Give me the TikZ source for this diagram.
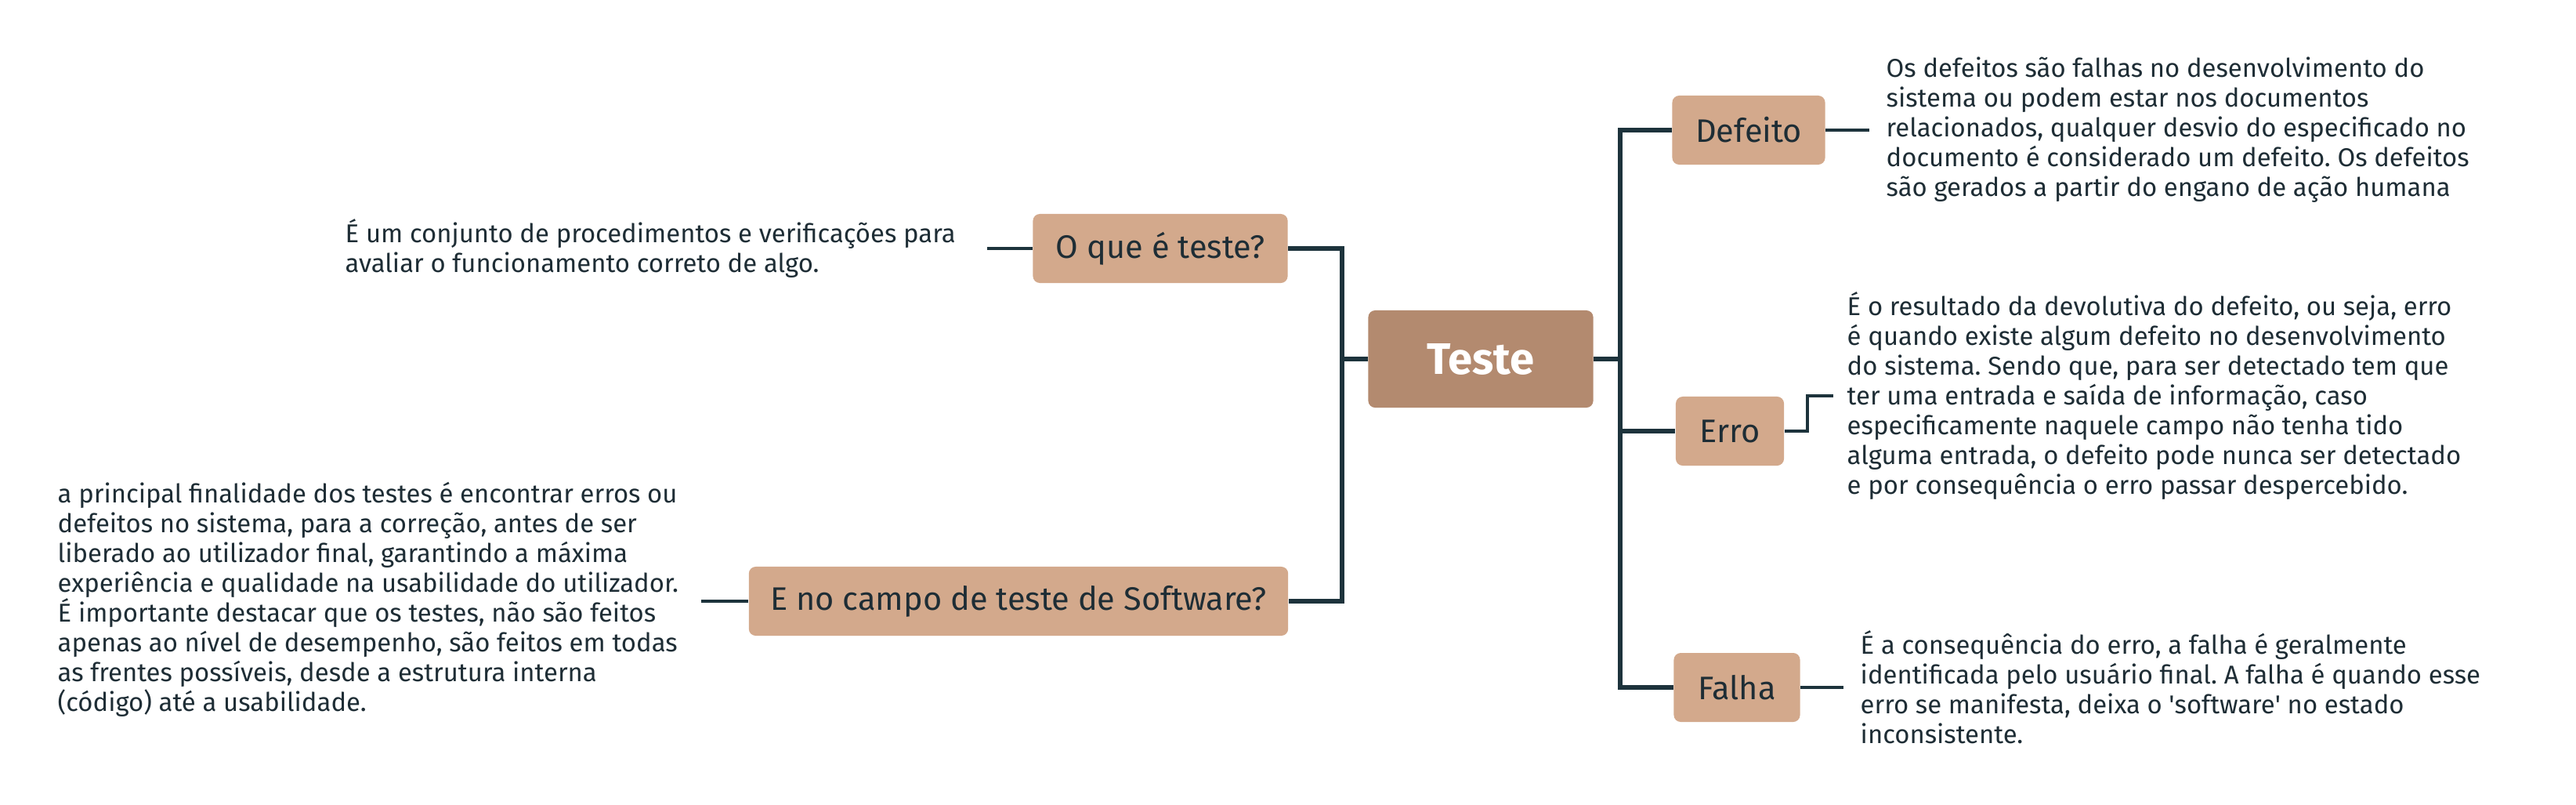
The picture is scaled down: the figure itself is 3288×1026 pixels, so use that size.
\documentclass[tikz,border=0pt]{standalone}
\usepackage{fontspec}
\setmainfont{Fira Sans}
\definecolor{boxtan}{HTML}{D3A98C}
\definecolor{boxbrown}{HTML}{B38A6F}
\definecolor{linedark}{HTML}{1D333C}
\definecolor{textdark}{HTML}{1E2D35}
\frenchspacing
\begin{document}
\begin{tikzpicture}[x=0.01cm, y=-0.01cm,
  every node/.style={inner sep=0pt, text=textdark},
  topic/.style={fill=boxbrown, rounded corners=2.5pt, minimum width=2.87cm, minimum height=1.24cm, font=\fontsize{16}{18}\selectfont\bfseries, text=white},
  subtopic/.style={fill=boxtan, rounded corners=2.5pt, minimum height=0.88cm, font=\fontsize{11.8}{13}\selectfont},
  note/.style={anchor=west, align=left, font=\fontsize{9.35}{10.8}\selectfont},
  branch/.style={draw=linedark, line width=1.7pt},
  stub/.style={draw=linedark, line width=1.1pt}]
  \useasboundingbox (0,0) rectangle (3288,1026);
  % central topic
  \node [topic] (teste) at (1890,458) {Teste};
  % left side
  \node [subtopic, minimum width=3.25cm] (oque) at (1481,317) {O que é teste?};
  \node [subtopic, minimum width=6.88cm] (campo) at (1300,767) {E no campo de teste de Software?};
  \node [note] (oquetxt) at (440,317) {É um conjunto de procedimentos e verificações para\\
    avaliar o funcionamento correto de algo.};
  \node [note] (campotxt) at (73,765) {a principal finalidade dos testes é encontrar erros ou\\
    defeitos no sistema, para a correção, antes de ser\\
    liberado ao utilizador final, garantindo a máxima\\
    experiência e qualidade na usabilidade do utilizador.\\
    É importante destacar que os testes, não são feitos\\
    apenas ao nível de desempenho, são feitos em todas\\
    as frentes possíveis, desde a estrutura interna\\
    (código) até a usabilidade.};
  % right side
  \node [subtopic, minimum width=1.95cm] (defeito) at (2232,166) {Defeito};
  \node [subtopic, minimum width=1.38cm] (erro) at (2208,550) {Erro};
  \node [subtopic, minimum width=1.61cm] (falha) at (2217,877) {Falha};
  \node [note] (defeitotxt) at (2407,166) {Os defeitos são falhas no desenvolvimento do\\
    sistema ou podem estar nos documentos\\
    relacionados, qualquer desvio do especificado no\\
    documento é considerado um defeito. Os defeitos\\
    são gerados a partir do engano de ação humana};
  \node [note] (errotxt) at (2357,505) {É o resultado da devolutiva do defeito, ou seja, erro\\
    é quando existe algum defeito no desenvolvimento\\
    do sistema. Sendo que, para ser detectado tem que\\
    ter uma entrada e saída de informação, caso\\
    especificamente naquele campo não tenha tido\\
    alguma entrada, o defeito pode nunca ser detectado\\
    e por consequência o erro passar despercebido.};
  \node [note] (falhatxt) at (2374,877) {É a consequência do erro, a falha é geralmente\\
    identificada pelo usuário final. A falha é quando esse\\
    erro se manifesta, deixa o \textquotesingle software\textquotesingle{} no estado\\
    inconsistente.};
  % branches
  \coordinate (lj) at (1713,458);
  \coordinate (rj) at (2068,458);
  \draw [branch] (teste.west) -- (lj) |- (oque.east);
  \draw [branch] (lj) |- (campo.east);
  \draw [branch] (teste.east) -- (rj) |- (defeito.west);
  \draw [branch] (rj) |- (erro.west);
  \draw [branch] (rj) |- (falha.west);
  % stubs to the notes
  \coordinate (s1) at (1260,317);
  \coordinate (s2) at (895,767);
  \coordinate (s3) at (2386,166);
  \coordinate (s4) at (2340,505);
  \coordinate (s5) at (2353,877);
  \draw [stub] (oque.west) -- (s1);
  \draw [stub] (campo.west) -- (s2);
  \draw [stub] (defeito.east) -- (s3);
  \draw [stub] (erro.east) -- ++(29,0) |- (s4);
  \draw [stub] (falha.east) -- (s5);
\end{tikzpicture}
\end{document}
